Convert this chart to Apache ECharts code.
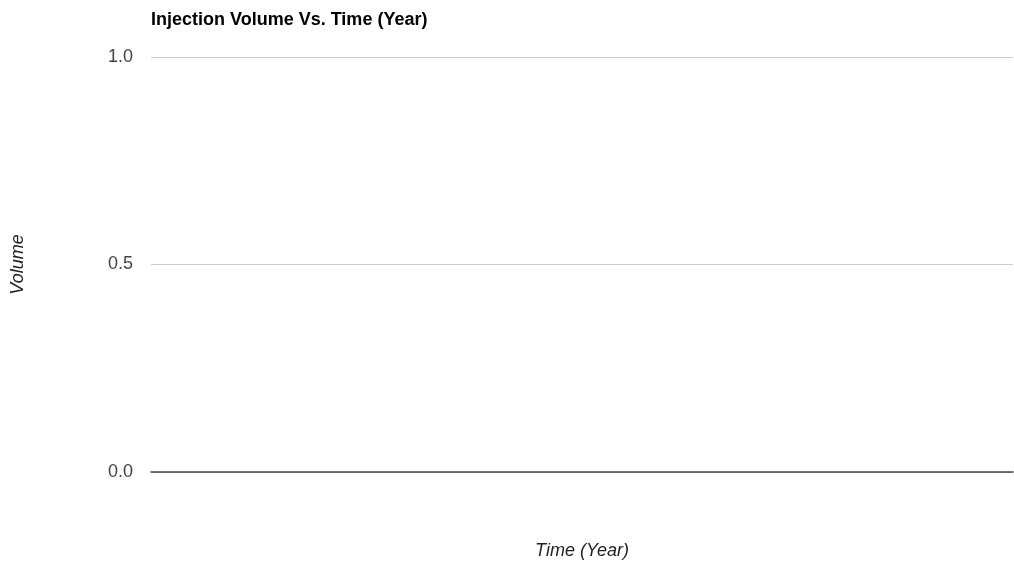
<!DOCTYPE html>
<html>
<head>
<meta charset="utf-8">
<script src="https://cdn.jsdelivr.net/npm/echarts@6/dist/echarts.min.js"></script>
<style>
  html, body { margin: 0; padding: 0; background: #fff; overflow: hidden; }
  #chart { width: 1014px; height: 565px; }
</style>
</head>
<body>
<div id="chart"></div>
<script>
// Injection records: no rows yet, so the chart shows only its empty frame.
const years = [];
const volumes = [];
const yTicks = [0, 0.5, 1];

const chart = echarts.init(document.getElementById('chart'), null, { renderer: 'canvas' });

const FONT = '"Liberation Sans", Arial, sans-serif';

chart.setOption({
  animation: false,
  backgroundColor: '#ffffff',
  title: {
    text: 'Injection Volume Vs. Time (Year)',
    left: 151,
    top: 11,
    padding: 0,
    textStyle: { fontFamily: FONT, fontSize: 18, fontWeight: 'bold', color: '#000' }
  },
  grid: { left: 151, right: 1, top: 57, bottom: 92, containLabel: false },
  xAxis: {
    type: 'value',
    min: 0,
    max: 1,
    name: 'Time (Year)',
    nameLocation: 'middle',
    nameGap: 70,
    nameTextStyle: { fontFamily: FONT, fontSize: 18, fontStyle: 'italic', color: '#222' },
    axisLine: { show: true, lineStyle: { color: '#444', width: 1.5 } },
    axisTick: { show: false },
    axisLabel: { show: false },
    splitLine: { show: false }
  },
  yAxis: {
    type: 'value',
    min: yTicks[0],
    max: yTicks[yTicks.length - 1],
    interval: yTicks[1] - yTicks[0],
    name: 'Volume',
    nameLocation: 'middle',
    nameGap: 124,
    nameRotate: 90,
    nameTextStyle: { fontFamily: FONT, fontSize: 18, fontStyle: 'italic', color: '#222' },
    axisLine: { show: false },
    axisTick: { show: false },
    axisLabel: {
      fontFamily: FONT,
      fontSize: 18,
      color: '#444',
      margin: 18,
      formatter: v => v.toFixed(1)
    },
    splitLine: { lineStyle: { color: '#cccccc', width: 1 } }
  },
  series: [{
    type: 'line',
    name: 'Volume',
    data: years.map((y, i) => [y, volumes[i]]),
    showSymbol: true,
    lineStyle: { color: '#3366cc', width: 2 },
    itemStyle: { color: '#3366cc' }
  }]
});
</script>
</body>
</html>
